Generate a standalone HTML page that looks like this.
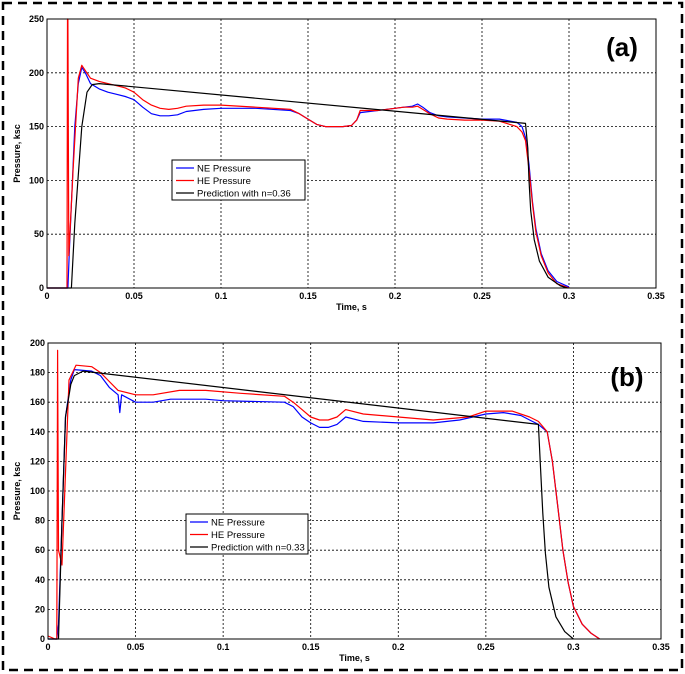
<!DOCTYPE html>
<html><head><meta charset="utf-8"><style>
body{margin:0;background:#fff;}
svg{display:block;font-family:"Liberation Sans",Arial,sans-serif;}
</style></head><body>
<svg id="c" width="685" height="674" xmlns="http://www.w3.org/2000/svg">
<rect x="3" y="3" width="679" height="667" fill="none" stroke="#000" stroke-width="2.5" stroke-dasharray="9,6"/>
</svg>
<script>
const xTicks=[0,0.05,0.1,0.15,0.2,0.25,0.3,0.35];
const xTickLabels=["0","0.05","0.1","0.15","0.2","0.25","0.3","0.35"];
const yTicksA=[0,50,100,150,200,250];
const yTicksB=[0,20,40,60,80,100,120,140,160,180,200];
const neA_t=[0,0.0115,0.012,0.013,0.016,0.018,0.02,0.022,0.025,0.03,0.035,0.04,0.045,0.05,0.055,0.06,0.065,0.07,0.075,0.08,0.09,0.1,0.12,0.14,0.145,0.15,0.155,0.16,0.17,0.175,0.178,0.18,0.19,0.2,0.205,0.21,0.213,0.216,0.22,0.225,0.23,0.24,0.25,0.26,0.27,0.273,0.275,0.277,0.279,0.281,0.284,0.288,0.293,0.3];
const neA_p=[0,0,0,40,150,190,205,200,190,185,182,180,178,175,168,162,160,160,161,164,166,167,167,165,162,157,152,150,150,151,156,163,165,167,168,169,171,168,163,160,159,158,157,157,154,150,140,115,80,55,32,16,6,1];
const heA_t=[0,0.0115,0.0118,0.012,0.0125,0.015,0.018,0.02,0.022,0.025,0.03,0.04,0.045,0.05,0.055,0.06,0.065,0.07,0.075,0.08,0.09,0.1,0.12,0.14,0.145,0.15,0.155,0.16,0.17,0.175,0.178,0.18,0.19,0.2,0.205,0.21,0.213,0.216,0.22,0.225,0.23,0.24,0.25,0.26,0.27,0.273,0.275,0.277,0.279,0.281,0.284,0.288,0.293,0.3];
const heA_p=[0,0,250,250,30,110,195,207,202,195,192,188,186,182,175,170,167,166,167,169,170,170,168,166,162,157,152,150,150,151,156,165,165,167,168,168,169,166,162,158,157,156,156,155,150,145,137,110,78,52,30,14,4,0];
const prA_t=[0,0.014,0.016,0.02,0.023,0.026,0.03,0.275,0.2763,0.277,0.278,0.28,0.283,0.288,0.295,0.299];
const prA_p=[0,0,60,150,182,189,190,153,130,100,72,45,25,10,2,0];
const neB_t=[0,0.005,0.006,0.008,0.01,0.013,0.015,0.025,0.03,0.035,0.04,0.041,0.042,0.05,0.06,0.07,0.09,0.1,0.135,0.14,0.145,0.15,0.155,0.16,0.165,0.17,0.18,0.2,0.22,0.235,0.25,0.26,0.27,0.275,0.28,0.285,0.288,0.291,0.294,0.297,0.3,0.305,0.31,0.315];
const neB_p=[0,0,10,80,150,175,182,181,178,170,165,153,165,160,160,162,162,161,160,157,150,146,143,143,145,150,147,146,146,148,152,153,151,148,145,140,120,90,60,38,22,10,4,0];
const heB_t=[0,0.004,0.005,0.0055,0.006,0.008,0.012,0.016,0.025,0.03,0.035,0.04,0.05,0.06,0.075,0.09,0.11,0.135,0.14,0.145,0.15,0.155,0.16,0.165,0.17,0.18,0.2,0.22,0.24,0.25,0.265,0.275,0.28,0.285,0.288,0.291,0.294,0.297,0.3,0.305,0.31,0.315];
const heB_p=[2,0,0,195,60,50,175,185,184,180,174,168,165,165,168,168,166,164,160,155,150,148,148,150,155,152,150,148,150,154,154,150,147,140,120,90,60,38,22,10,4,0];
const prB_t=[0,0.006,0.008,0.01,0.013,0.015,0.02,0.28,0.281,0.2825,0.284,0.286,0.29,0.295,0.3];
const prB_p=[0,0,80,150,172,178,181,145,120,85,58,35,15,5,0];

const svg=document.getElementById('c');
const NS='http://www.w3.org/2000/svg';
function mk(tag,attrs,parent){const e=document.createElementNS(NS,tag);for(const k in attrs)e.setAttribute(k,attrs[k]);(parent||svg).appendChild(e);return e;}

function panel(id,box,xmax,ymax,yTicks,series,legend,label,labelPos){
  const g=mk('g',{});
  
  
  const X=t=>box.x0+(t/xmax)*(box.x1-box.x0);
  const Y=p=>box.y1-(p/ymax)*(box.y1-box.y0);
  xTicks.forEach((t,i)=>{
    if(i>0&&i<xTicks.length-1){const l=mk('line',{x1:X(t),x2:X(t),y1:box.y0,y2:box.y1,stroke:'#000','stroke-width':0.8,'stroke-dasharray':'2,2'},g);
    }
    const tx=mk('text',{x:X(t),y:box.y1+11,'font-size':9,'font-weight':'bold','text-anchor':'middle'},g);
    tx.textContent=xTickLabels[i];
    
  });
  yTicks.forEach(p=>{
    if(p>0&&p<ymax){const l=mk('line',{x1:box.x0,x2:box.x1,y1:Y(p),y2:Y(p),stroke:'#000','stroke-width':0.8,'stroke-dasharray':'2,2'},g);
    }
    const tx=mk('text',{x:box.x0-3,y:Y(p)+3,'font-size':9,'font-weight':'bold','text-anchor':'end'},g);
    tx.textContent=p;
    
  });
  series.forEach(s=>{
    const d=s.t.map((t,i)=>(i?'L':'M')+X(t).toFixed(1)+','+Y(s.p[i]).toFixed(1)).join('');
    const pth=mk('path',{d:d,fill:'none',stroke:s.c,'stroke-width':1.2,'stroke-linejoin':'round'},g);
    
    
  });
  const fr=mk('rect',{x:box.x0,y:box.y0,width:box.x1-box.x0,height:box.y1-box.y0,fill:'none',stroke:'#000','stroke-width':1},g);
  
  const xt=mk('text',{x:(box.x0+box.x1)/2,y:box.y1+22,'font-size':9,'font-weight':'bold','text-anchor':'middle'},g);
  xt.textContent='Time, s';
  
  const cy=(box.y0+box.y1)/2;
  const yt=mk('text',{x:20,y:cy,'font-size':9,'font-weight':'bold','text-anchor':'middle',transform:'rotate(-90 20 '+cy+')'},g);
  yt.textContent='Pressure, ksc';
  
  const lg=mk('g',{},g);
  
  mk('rect',{x:legend.x,y:legend.y,width:legend.w,height:40,fill:'#fff',stroke:'#000','stroke-width':1},lg);
  series.forEach((s,i)=>{
    const yy=legend.y+8+i*12.5;
    mk('line',{x1:legend.x+4,x2:legend.x+22,y1:yy,y2:yy,stroke:s.c,'stroke-width':1.2},lg);
    const t=mk('text',{x:legend.x+25,y:yy+3.5,'font-size':9.5},lg);
    t.textContent=s.label;
    
  });
  const lb=mk('text',{x:labelPos[0],y:labelPos[1],'font-size':26,'font-weight':'bold','text-anchor':'middle'},g);
  lb.textContent=label;
  
}
panel('a',{x0:47,x1:656,y0:19,y1:288},0.35,250,yTicksA,[
 {t:neA_t,p:neA_p,c:'#0000ff',n:'ne-pressure-line',label:'NE Pressure'},
 {t:heA_t,p:heA_p,c:'#ff0000',n:'he-pressure-line',label:'HE Pressure'},
 {t:prA_t,p:prA_p,c:'#000',n:'prediction-line',label:'Prediction with n=0.36'}],
 {x:172,y:160,w:133},'(a)',[622,56]);
panel('b',{x0:48,x1:661,y0:343,y1:639},0.35,200,yTicksB,[
 {t:neB_t,p:neB_p,c:'#0000ff',n:'ne-pressure-line',label:'NE Pressure'},
 {t:heB_t,p:heB_p,c:'#ff0000',n:'he-pressure-line',label:'HE Pressure'},
 {t:prB_t,p:prB_p,c:'#000',n:'prediction-line',label:'Prediction with n=0.33'}],
 {x:186,y:514,w:122},'(b)',[627,386]);
</script>
</body></html>
